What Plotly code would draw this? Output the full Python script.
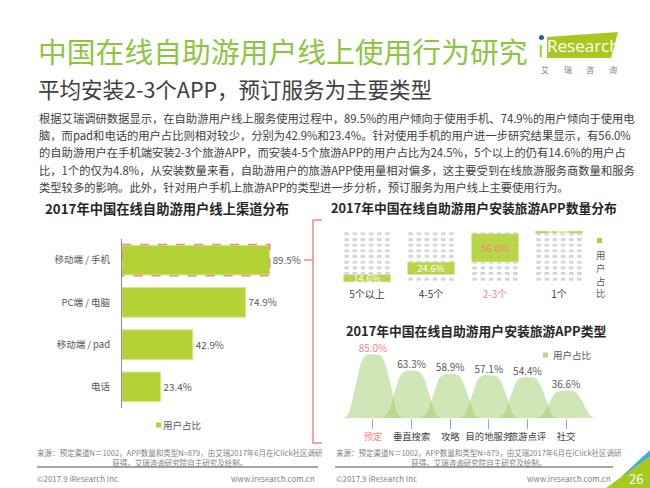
import numpy as np
import plotly.graph_objects as go

W, H = 650, 488
FONT = "Noto Sans CJK SC"
GREEN = "#b2d235"
PINK = "#f2868a"
GREY_TXT = "#595959"

# --- data ---------------------------------------------------------------
channels = ["移动端 / 手机", "PC端 / 电脑", "移动端 / pad", "电话"]
channel_share = [89.5, 74.9, 42.9, 23.4]

app_counts = ["5个以上", "4-5个", "2-3个", "1个"]
app_count_share = [14.6, 24.6, 56.0, 4.8]

app_types = ["预定", "垂直搜索", "攻略", "目的地服务", "旅游点评", "社交"]
app_type_share = [85.0, 63.3, 58.9, 57.1, 54.4, 36.6]

body_lines = [
    "根据艾瑞调研数据显示，在自助游用户线上服务使用过程中，89.5%的用户倾向于使用手机、74.9%的用户倾向于使用电",
    "脑，而pad和电话的用户占比则相对较少，分别为42.9%和23.4%。针对使用手机的用户进一步研究结果显示，有56.0%",
    "的自助游用户在手机端安装2-3个旅游APP，而安装4-5个旅游APP的用户占比为24.5%，5个以上的仍有14.6%的用户占",
    "比，1个的仅为4.8%，从安装数量来看，自助游用户的旅游APP使用量相对偏多，这主要受到在线旅游服务商数量和服务",
    "类型较多的影响。此外，针对用户手机上旅游APP的类型进一步分析，预订服务为用户线上主要使用行为。",
]
source_text = ("来源：预定渠道N＝1002，APP数量和类型N=879，由艾瑞2017年6月在iClick社区调研"
               "<br>获得。艾瑞咨询研究院自主研究及绘制。")


def px(x):
    return x / W


def py(y):
    return 1 - y / H


fig = go.Figure()

# --- left: channel bars -------------------------------------------------
fig.add_bar(
    x=channel_share, y=channels, orientation="h", width=0.7,
    marker=dict(color=GREEN, line=dict(color="#d4e88f", width=1)),
    text=[f"{v}%" for v in channel_share], textposition="outside",
    textfont=dict(size=9.8, color=GREY_TXT), cliponaxis=False,
    xaxis="x", yaxis="y", showlegend=False,
)
fig.add_shape(type="rect", xref="x", yref="y", x0=0, x1=channel_share[0],
              y0=-0.37, y1=0.37, line=dict(color=PINK, width=1.5, dash="dash"))

# --- top right: app count waffle ----------------------------------------
cols, rows = 6, 9
gx, gy = [], []
for i in range(len(app_counts)):
    for c in range(cols):
        for r in range(rows):
            gx.append(i + (c - 2.5) * 0.127)
            gy.append((r + 0.5) * 100 / rows)
fig.add_scatter(x=gx, y=gy, mode="markers", xaxis="x2", yaxis="y2",
                marker=dict(symbol="line-ew", size=3.2,
                            line=dict(width=3, color="#d6d6d6")),
                hoverinfo="skip", showlegend=False)
# green bands sit on an overlaying axis so they are drawn above the grid
base = np.concatenate([[0], np.cumsum(app_count_share)[:-1]])
fig.add_bar(
    x=list(range(len(app_counts))), y=app_count_share, base=base, width=0.74,
    marker=dict(color="rgba(178,210,53,0.9)"),
    text=[f"{v:.1f}%" for v in app_count_share], textposition="inside",
    insidetextanchor="middle", constraintext="none",
    textfont=dict(size=9.5, color=["white", "white", PINK, "white"]),
    xaxis="x4", yaxis="y4", showlegend=False, cliponaxis=False,
)

# --- bottom right: app type humps ---------------------------------------
t = np.linspace(-0.8, 0.8, 161)
for i, v in enumerate(app_type_share):
    fig.add_scatter(x=i + t, y=v * np.exp(-np.abs(t / 0.5) ** 4), mode="lines",
                    fill="tozeroy", fillcolor="rgba(160,206,110,0.5)",
                    line=dict(width=0), xaxis="x3", yaxis="y3",
                    hoverinfo="skip", showlegend=False)
fig.add_scatter(
    x=list(range(len(app_types))), y=app_type_share, mode="text",
    text=[f"{v:.1f}%" for v in app_type_share], textposition="top center",
    textfont=dict(size=10, color=[PINK] + [GREY_TXT] * 5),
    xaxis="x3", yaxis="y3", showlegend=False, cliponaxis=False,
)

# --- axes ---------------------------------------------------------------
hidden = dict(showgrid=False, zeroline=False, showticklabels=False, showline=False)
waffle_x = dict(domain=[px(335), px(591)], range=[-0.5, 3.5])
waffle_y = dict(domain=[py(282), py(231)], range=[0, 100])
fig.update_layout(
    xaxis=dict(domain=[px(122), px(287)], range=[0, 100], anchor="y", **hidden),
    yaxis=dict(domain=[py(408), py(239)], autorange="reversed", anchor="x",
               showgrid=False, zeroline=False, showline=True, linecolor="#8c8c8c",
               ticks="", ticklabelstandoff=9,
               tickfont=dict(size=9.5, color=GREY_TXT)),
    xaxis2=dict(**waffle_x, anchor="y2",
                showgrid=False, zeroline=False, showline=False, ticks="",
                ticklabelstandoff=5,
                tickvals=list(range(len(app_counts))),
                ticktext=[f"<span style='color:{PINK}'>{c}</span>" if c == "2-3个" else c
                          for c in app_counts],
                tickfont=dict(size=10, color="#404040")),
    yaxis2=dict(**waffle_y, anchor="x2", **hidden),
    xaxis4=dict(**waffle_x, anchor="y4", overlaying="x2", **hidden),
    yaxis4=dict(**waffle_y, anchor="x4", overlaying="y2", **hidden),
    xaxis3=dict(domain=[px(344), px(595)], range=[-0.75, 5.75], anchor="y3",
                showgrid=False, zeroline=False, showline=False,
                ticks="outside", ticklen=10, tickcolor="#a6a6a6", tickangle=0,
                tickvals=list(range(len(app_types))),
                ticktext=[f"<span style='color:{PINK}'>{c}</span>" if c == "预定" else c
                          for c in app_types],
                tickfont=dict(size=9.3, color="#404040")),
    yaxis3=dict(domain=[py(418), py(343)], range=[0, 100], anchor="x3", **hidden),
)

# --- text ---------------------------------------------------------------
ann = []


def text(x, y, s, size, color="#404040", anchor="left", bold=False, family=FONT):
    if bold:
        s = f"<b>{s}</b>"
    ann.append(dict(x=px(x), y=py(y), xref="paper", yref="paper", text=s,
                    showarrow=False, xanchor=anchor, yanchor="middle", borderpad=0,
                    font=dict(size=size, color=color, family=family)))


text(37, 50, "中国在线自助游用户线上使用行为研究", 28.8, "#8cc63f")
text(37, 89, "平均安装2-3个APP，预订服务为主要类型", 21.5, "#404040")
for k, line in enumerate(body_lines):
    text(38, 118 + k * 17.2, line, 11.3, "#404040")

text(167, 208, "2017年中国在线自助游用户线上渠道分布", 13.3, "#262626", "center", True)
text(474, 207, "2017年中国在线自助游用户安装旅游APP数量分布", 12.8, "#262626", "center", True)
text(476, 330, "2017年中国在线自助游用户安装旅游APP类型", 12.8, "#262626", "center", True)

# legends
text(162, 425, "用户占比", 9.5, GREY_TXT)
for k, ch in enumerate("用户占比"):
    text(600, 255 + k * 12.8, ch, 9.3, GREY_TXT, "center")
text(552, 355, "用户占比", 9.5, GREY_TXT)

# logo
text(546, 46, "Research", 17, "white", "left", family="Open Sans")
text(541, 48, "ı", 22, "#a8c820", "center", family="Open Sans")
for k, ch in enumerate("艾瑞咨询"):
    text(545 + k * 22.5, 69, ch, 8, "#7f7f7f", "center")

# footer
for x0, x1 in [(36, 316), (335, 612)]:
    text(x0, 457, source_text, 7.5, "#7f7f7f")
    text(x0, 478, "©2017.9 iResearch Inc", 7.9, "#7f7f7f")
    text(x1, 478, "www.iresearch.com.cn", 7.9, "#7f7f7f", "right")
text(636, 478, "26", 13, "white", "center")
fig.update_layout(annotations=ann)

# --- decoration shapes ----------------------------------------------------
def path(points, close=True):
    d = "M " + " L ".join(f"{px(x)},{py(y)}" for x, y in points)
    return d + (" Z" if close else "")


shapes = [
    # bracket linking phone bar to right panels
    dict(type="path", path=path([(322, 220), (313, 220), (313, 443), (322, 443)], False),
         line=dict(color=PINK, width=1.5)),
    dict(type="line", x0=px(304), x1=px(313), y0=py(260), y1=py(260),
         line=dict(color=PINK, width=1.5)),
    # legend squares
    dict(type="rect", x0=px(156), x1=px(161), y0=py(422.5), y1=py(427.5),
         fillcolor=GREEN, line=dict(width=0)),
    dict(type="rect", x0=px(597), x1=px(602), y0=py(238), y1=py(243),
         fillcolor=GREEN, line=dict(width=0)),
    dict(type="rect", x0=px(543), x1=px(548), y0=py(352.5), y1=py(357.5),
         fillcolor="#b5d88e", line=dict(width=0)),
    # logo
    dict(type="path", path=path([(547, 37), (618, 32), (611, 58), (547, 58)]),
         fillcolor="#a8c820", line=dict(width=0)),
    dict(type="circle", x0=px(539), x1=px(544), y0=py(40), y1=py(35),
         fillcolor="#1f5fa8", line=dict(width=0)),
    # footer rules
    dict(type="line", x0=px(37), x1=px(318), y0=py(467), y1=py(467),
         line=dict(color="#a6a6a6", width=2)),
    dict(type="line", x0=px(335), x1=px(613), y0=py(467), y1=py(467),
         line=dict(color="#a6a6a6", width=2)),
    # page corner
    dict(type="path", path=path([(622, 476), (650, 450), (650, 476)]),
         fillcolor="#3aaee0", line=dict(width=0)),
    dict(type="path", path=path([(606, 488), (650, 456), (650, 488)]),
         fillcolor="#a8c820", line=dict(width=0)),
]
for s in shapes:
    s["xref"] = "paper"
    s["yref"] = "paper"
fig.update_layout(shapes=fig.layout.shapes + tuple(shapes))

fig.update_layout(
    width=W, height=H, margin=dict(l=0, r=0, t=0, b=0),
    paper_bgcolor="white", plot_bgcolor="rgba(0,0,0,0)",
    font=dict(family=FONT, color="#404040"), showlegend=False,
)

# page body has a default 8px margin; drop it so the figure fills the window
fig.write_html("out.html", config={"displayModeBar": False},
               post_script="document.body.style.margin='0';")
